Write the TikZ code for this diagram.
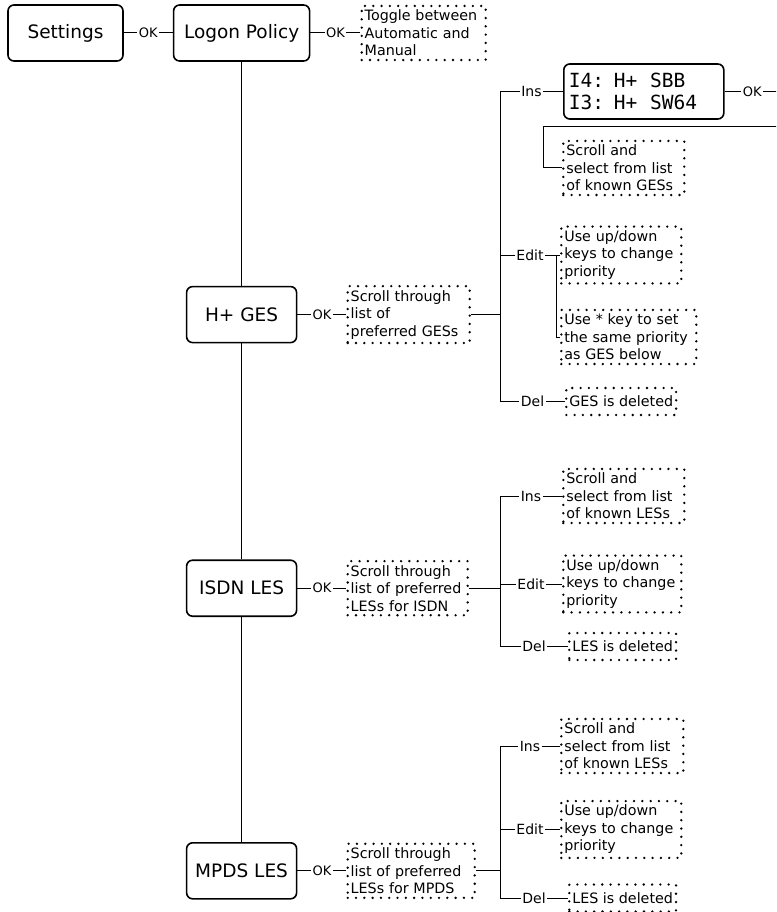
\documentclass[tikz,border=0pt]{standalone}
\usepackage{fontspec}
\setmainfont{DejaVu Sans}
\newfontfamily\lcdfont{DejaVu Sans Mono}
\usetikzlibrary{positioning}

\begin{document}
\begin{tikzpicture}[x=1pt, y=1pt, node distance=49pt, line width=1pt]
  \tikzset{
    menu/.style={draw, rounded corners=6pt, line width=1.6pt, fill=white, minimum width=110pt, minimum height=56pt, font=\fontsize{18.5}{22}\selectfont},
    note/.style={draw, line width=2.6pt, dash pattern=on 0pt off 8.3pt, line cap=round, align=left, inner xsep=3pt, inner ysep=4pt, font=\fontsize{14.3}{17.5}\selectfont},
    lcd/.style={draw, rounded corners=6pt, line width=1.6pt, minimum height=55pt, text width=150pt, inner xsep=5pt, align=left, font=\lcdfont\fontsize{19.5}{21.7}\selectfont},
    lbl/.style={fill=white, inner sep=1.5pt, font=\fontsize{14}{16}\selectfont},
    okl/.style={lbl, font=\fontsize{13}{15}\selectfont}
  }
  \useasboundingbox (0,0) rectangle (776,-912);
  \clip (0,0) rectangle (776,-912);

  % menu column
  \node[menu, minimum width=115pt] (settings) at (65.5,-33) {Settings};
  \node[menu, minimum width=136pt, right=of settings] (logon) {Logon Policy};
  \node[note, text width=118pt, right=50pt of logon] (toggle) {Toggle between\\Automatic and\\Manual};
  \node[menu, below=224pt of logon] (hges) {H+ GES};
  \node[menu, below=216pt of hges] (isdn) {ISDN LES};
  \node[menu, below=225pt of isdn] (mpds) {MPDS LES};

  % lists
  \node[note, text width=116pt, right=of hges] (gscroll) {Scroll through\\list of\\preferred GESs};
  \node[note, text width=114pt, right=of isdn] (iscroll) {Scroll through\\list of preferred\\LESs for ISDN};
  \node[note, text width=121pt, right=of mpds] (mscroll) {Scroll through\\list of preferred\\LESs for MPDS};
  \coordinate (colx) at (500,0);
  \coordinate (gj) at (gscroll.east -| colx);
  \coordinate (ij) at (iscroll.east -| colx);
  \coordinate (mj) at (mscroll.east -| colx);

  % H+ GES actions
  \node[lcd, anchor=west] (gsrv) at (563,-91.5) {I4: H+\ \ SBB\\I3: H+\ \ SW64};
  \node[note, text width=115pt, anchor=west] (gsel) at (562,-168) {Scroll and\\select from list\\of known GESs};
  \node[note, text width=114pt, anchor=west] (gup) at (560,-255) {Use up/down\\keys to change\\priority};
  \node[note, text width=129pt, anchor=west] (gstar) at (560,-337) {Use * key to set\\the same priority\\as GES below};
  \node[note, minimum height=27pt, anchor=west] (gdel) at (565,-401.5) {GES is deleted};
  \coordinate (gout) at (780,-91.5);
  \coordinate (gret) at (780,-127);

  % ISDN LES actions
  \node[note, text width=115pt, anchor=west] (iins) at (562,-496) {Scroll and\\select from list\\of known LESs};
  \node[note, text width=112pt, anchor=west] (iup) at (562,-584) {Use up/down\\keys to change\\priority};
  \node[note, minimum height=27pt, anchor=west] (idel) at (568,-646.5) {LES is deleted};

  % MPDS LES actions
  \node[note, text width=116pt, anchor=west] (mins) at (560,-746) {Scroll and\\select from list\\of known LESs};
  \node[note, text width=114pt, anchor=west] (mup) at (560,-829.5) {Use up/down\\keys to change\\priority};
  \node[note, minimum height=27pt, anchor=west] (mdel) at (568,-898) {LES is deleted};

  \draw (settings) -- node[okl] {OK} (logon);
  \draw (logon) -- node[okl] {OK} (toggle);
  \draw (logon) -- (hges) (hges) -- (isdn) (isdn) -- (mpds);
  \draw (hges) -- node[okl] {OK} (gscroll);
  \draw (isdn) -- node[okl] {OK} (iscroll);
  \draw (mpds) -- node[okl] {OK} (mscroll);

  \draw (gscroll) -- (gj);
  \draw (gj) |- node[lbl, pos=.75] {Ins} (gsrv);
  \draw (gj) |- node[lbl, pos=.75] {Edit} (gup);
  \draw ([xshift=-4pt]gup.west) |- (gstar);
  \draw (gj) |- node[lbl, pos=.75] {Del} (gdel);
  \draw (gsrv) -- node[okl] {OK} (gout);
  \draw (gret) -| ([xshift=-19pt]gsel.west) -- (gsel);

  \draw (iscroll) -- (ij);
  \draw (ij) |- node[lbl, pos=.75] {Ins} (iins);
  \draw (ij) |- node[lbl, pos=.75] {Edit} (iup);
  \draw (ij) |- node[lbl, pos=.75] {Del} (idel);

  \draw (mscroll) -- (mj);
  \draw (mj) |- node[lbl, pos=.75] {Ins} (mins);
  \draw (mj) |- node[lbl, pos=.75] {Edit} (mup);
  \draw (mj) |- node[lbl, pos=.75] {Del} (mdel);
\end{tikzpicture}
\end{document}
